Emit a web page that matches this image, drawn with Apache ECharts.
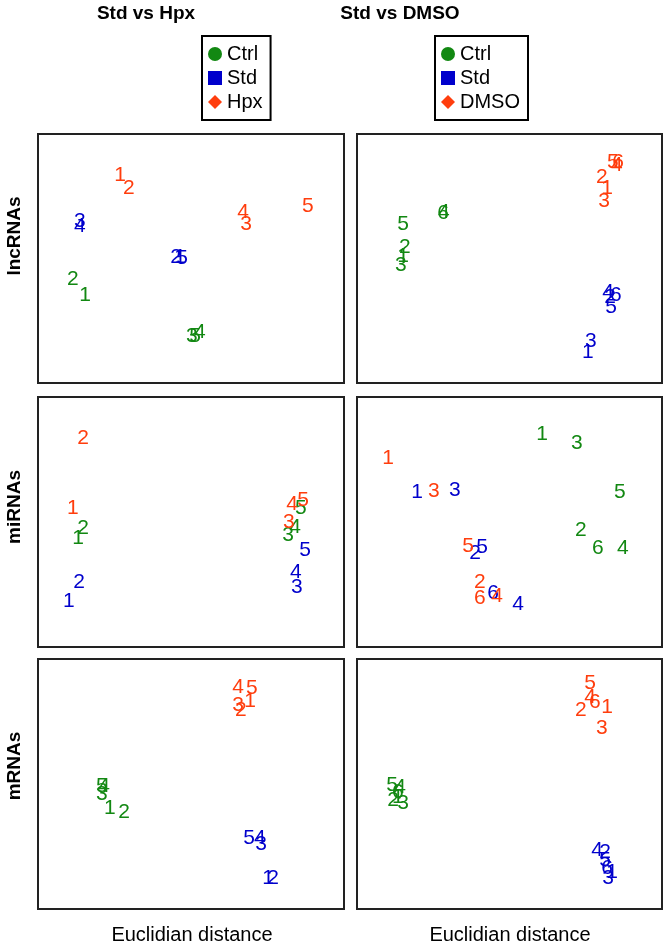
<!DOCTYPE html>
<html>
<head>
    <meta charset="UTF-8">
    <title></title>
    <script type="text/javascript" src="https://cdn.jsdelivr.net/npm/echarts@6/dist/echarts.min.js"></script>
    <style>
        html, body { margin: 0; padding: 0; background: #fff; }
        #main { width: 666px; height: 945px; }
    </style>
</head>
<body>
<div id="main"></div>
<script>
    // sample positions (x, y), scaled 0-100; label = sample number (index + 1)
    var lncHpxCtrl = [[15.4, 35.3], [11.4, 41.8], [50.3, 18.9], [52.9, 20.5], [51.3, 18.9]];
    var lncHpxStd  = [[46.4, 50.6], [45.1, 50.6], [13.7, 65.1], [13.7, 63.1], [47.1, 50.2]];
    var lncHpxHpx  = [[26.8, 83.5], [29.7, 78.3], [68.0, 63.9], [67.0, 68.7], [88.2, 71.1]];

    var lncDmsoCtrl = [[15.1, 51.0], [15.7, 54.6], [14.4, 47.4], [28.5, 68.7], [15.1, 63.9], [28.2, 68.3]];
    var lncDmsoStd  = [[75.7, 12.4], [83.0, 34.5], [76.7, 16.9], [82.3, 36.5], [83.3, 30.5], [84.9, 35.3]];
    var lncDmsoDmso = [[82.0, 78.3], [80.3, 82.7], [81.0, 73.1], [85.2, 87.6], [83.9, 88.8], [85.6, 88.8]];

    var miHpxCtrl = [[13.1, 43.6], [14.7, 47.6], [81.7, 44.8], [84.0, 48.0], [85.9, 55.6]];
    var miHpxStd  = [[10.1, 18.4], [13.4, 26.0], [84.6, 24.0], [84.3, 30.0], [87.3, 38.8]];
    var miHpxHpx  = [[11.4, 55.6], [14.7, 83.6], [82.0, 50.0], [83.0, 57.2], [86.6, 58.8]];

    var miDmsoCtrl = [[60.7, 85.2], [73.4, 46.8], [72.1, 81.6], [87.2, 39.6], [86.2, 62.0], [79.0, 39.6]];
    var miDmsoStd  = [[19.7, 62.0], [38.7, 37.6], [32.1, 62.8], [52.8, 17.2], [41.0, 40.0], [44.6, 21.6]];
    var miDmsoDmso = [[10.2, 75.6], [40.3, 26.0], [25.2, 62.4], [45.9, 20.4], [36.4, 40.4], [40.3, 19.6]];

    var mHpxCtrl = [[23.5, 40.4], [28.1, 38.8], [20.9, 46.0], [21.6, 49.2], [20.9, 49.2]];
    var mHpxStd  = [[75.2, 12.4], [76.8, 12.4], [72.9, 26.0], [72.5, 28.4], [69.0, 28.4]];
    var mHpxHpx  = [[69.3, 83.2], [66.3, 79.6], [65.4, 81.6], [65.4, 88.8], [69.9, 88.4]];

    var mDmsoCtrl = [[13.4, 44.8], [11.8, 43.6], [15.1, 42.4], [14.1, 48.8], [11.5, 49.6], [13.4, 46.8]];
    var mDmsoStd  = [[83.6, 14.8], [81.3, 22.8], [82.3, 12.4], [78.7, 23.6], [81.3, 19.6], [82.0, 16.4]];
    var mDmsoDmso = [[82.0, 80.8], [73.4, 79.6], [80.3, 72.4], [76.4, 84.8], [76.4, 90.4], [78.0, 82.8]];

    var colTitles = ['Std vs Hpx', 'Std vs DMSO'];
    var rowTitles = ['lncRNAs', 'miRNAs', 'mRNAs'];
    var xTitle = 'Euclidian distance';

    var colors = {Ctrl: '#128812', Std: '#0000cc', Hpx: '#ff3d0d', DMSO: '#ff3d0d'};
    var font = 'Liberation Sans, Arial, sans-serif';

    var panels = [
        [['Ctrl', lncHpxCtrl], ['Std', lncHpxStd], ['Hpx', lncHpxHpx]],
        [['Ctrl', lncDmsoCtrl], ['Std', lncDmsoStd], ['DMSO', lncDmsoDmso]],
        [['Ctrl', miHpxCtrl], ['Std', miHpxStd], ['Hpx', miHpxHpx]],
        [['Ctrl', miDmsoCtrl], ['Std', miDmsoStd], ['DMSO', miDmsoDmso]],
        [['Ctrl', mHpxCtrl], ['Std', mHpxStd], ['Hpx', mHpxHpx]],
        [['Ctrl', mDmsoCtrl], ['Std', mDmsoStd], ['DMSO', mDmsoDmso]]
    ];

    var colLeft = [38, 357], colWidth = [306, 305];
    var rowTop = [134, 397, 659], rowHeight = [249, 250, 250];

    var grids = [], xAxes = [], yAxes = [], series = [];
    panels.forEach(function (groups, p) {
        var c = p % 2, r = Math.floor(p / 2);
        grids.push({
            left: colLeft[c], top: rowTop[r], width: colWidth[c], height: rowHeight[r],
            show: true, borderColor: '#222', borderWidth: 2, backgroundColor: '#fff'
        });
        xAxes.push({gridIndex: p, type: 'value', min: 0, max: 100, show: false});
        yAxes.push({gridIndex: p, type: 'value', min: 0, max: 100, show: false});
        groups.forEach(function (g) {
            series.push({
                name: g[0],
                type: 'scatter',
                xAxisIndex: p,
                yAxisIndex: p,
                symbolSize: 0,
                itemStyle: {color: colors[g[0]], opacity: 1},
                label: {
                    show: true,
                    position: 'inside',
                    color: colors[g[0]],
                    opacity: 1,
                    fontSize: 21,
                    fontFamily: font,
                    formatter: function (d) { return String(d.dataIndex + 1); }
                },
                emphasis: {disabled: true},
                data: g[1]
            });
        });
    });

    function legendBox(left, names) {
        return {
            orient: 'vertical', left: left, top: 36,
            data: [{name: names[0], icon: 'circle'}, {name: names[1], icon: 'rect'}, {name: names[2], icon: 'diamond'}],
            itemWidth: 14, itemHeight: 14, itemGap: 4,
            padding: [8, 8, 8, 6],
            borderColor: '#000', borderWidth: 2, backgroundColor: '#fff',
            selectedMode: false,
            itemStyle: {opacity: 1},
            textStyle: {fontSize: 20, color: '#000', fontFamily: font}
        };
    }

    var texts = [];
    [146, 400].forEach(function (x, i) {
        texts.push({type: 'text', x: x, y: 14, style: {text: colTitles[i], font: 'bold 19px ' + font, fill: '#000', textAlign: 'center', textVerticalAlign: 'middle'}});
    });
    [236, 507, 766].forEach(function (y, i) {
        texts.push({type: 'text', x: 15, y: y, rotation: Math.PI / 2, style: {text: rowTitles[i], font: 'bold 19px ' + font, fill: '#000', textAlign: 'center', textVerticalAlign: 'middle'}});
    });
    [192, 510].forEach(function (x) {
        texts.push({type: 'text', x: x, y: 935, style: {text: xTitle, font: '20px ' + font, fill: '#000', textAlign: 'center', textVerticalAlign: 'middle'}});
    });

    var myChart = echarts.init(document.getElementById('main'));
    myChart.setOption({
        animation: false,
        backgroundColor: '#fff',
        legend: [legendBox(202, ['Ctrl', 'Std', 'Hpx']), legendBox(435, ['Ctrl', 'Std', 'DMSO'])],
        grid: grids,
        xAxis: xAxes,
        yAxis: yAxes,
        graphic: texts,
        series: series
    });
</script>
</body>
</html>
